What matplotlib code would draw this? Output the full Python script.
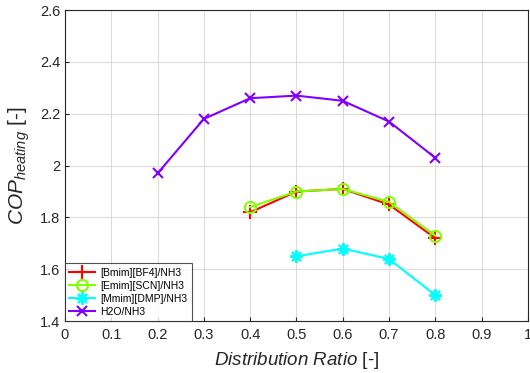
import matplotlib
matplotlib.use("Agg")
import matplotlib.pyplot as plt

plt.rcParams['font.family'] = ['Liberation Sans', 'DejaVu Sans']
plt.rcParams['mathtext.fontset'] = 'custom'
plt.rcParams['mathtext.rm'] = 'Liberation Sans'
plt.rcParams['mathtext.it'] = 'Liberation Sans:italic'

x_bmim = [0.4, 0.5, 0.6, 0.7, 0.8]
y_bmim = [1.82, 1.90, 1.91, 1.85, 1.72]
x_emim = [0.4, 0.5, 0.6, 0.7, 0.8]
y_emim = [1.84, 1.90, 1.91, 1.86, 1.73]
x_mmim = [0.5, 0.6, 0.7, 0.8]
y_mmim = [1.65, 1.68, 1.64, 1.50]
x_h2o = [0.2, 0.3, 0.4, 0.5, 0.6, 0.7, 0.8]
y_h2o = [1.97, 2.18, 2.26, 2.27, 2.25, 2.17, 2.03]
xticks = [0, 0.1, 0.2, 0.3, 0.4, 0.5, 0.6, 0.7, 0.8, 0.9, 1]
xticklabels = ['0', '0.1', '0.2', '0.3', '0.4', '0.5', '0.6', '0.7', '0.8', '0.9', '1']
yticks = [1.4, 1.6, 1.8, 2.0, 2.2, 2.4, 2.6]
yticklabels = ['1.4', '1.6', '1.8', '2', '2.2', '2.4', '2.6']

fig = plt.figure(figsize=(5.3, 3.73), dpi=100)
ax = fig.add_axes([0.1226, 0.139, 0.8734, 0.834])

ax.plot(x_bmim, y_bmim, color='#ff0000', marker='+', ms=10, mew=1.5, lw=1.5, label='[Bmim][BF4]/NH3')
ax.plot(x_emim, y_emim, color='#80ff00', marker='o', ms=8, mfc='none', mew=1.5, lw=1.5, label='[Emim][SCN]/NH3')
ax.plot(x_mmim, y_mmim, color='#00ffff', marker=(8, 2, 0), ms=9, mew=1.5, lw=1.5, label='[Mmim][DMP]/NH3')
ax.plot(x_h2o, y_h2o, color='#8000ff', marker='x', ms=7, mew=1.5, lw=1.5, label='H2O/NH3')

ax.set_xlim(0, 1)
ax.set_ylim(1.4, 2.6)
ax.set_xticks(xticks)
ax.set_xticklabels(xticklabels)
ax.set_yticks(yticks)
ax.set_yticklabels(yticklabels)
ax.tick_params(direction='in', labelsize=10.5, length=3, colors='#262626', labelcolor='#262626')
ax.tick_params(axis='x', pad=5)
ax.grid(True, color='#dcdcdc', lw=0.8)
ax.set_axisbelow(True)
for s in ax.spines.values():
    s.set_color('#262626')
    s.set_linewidth(0.8)

ax.set_xlabel(r'$\mathit{Distribution\ Ratio}$ [-]', fontsize=13.5, color='#262626', labelpad=6)
ax.set_ylabel(r'$\mathit{COP}_{\mathit{heating}}$ [-]', fontsize=15, color='#262626', labelpad=6)

leg = ax.legend(loc='lower left', fontsize=7.5, frameon=True, fancybox=False,
                edgecolor='#262626', borderaxespad=0, handlelength=2.5,
                borderpad=0.4, labelspacing=0.3, handletextpad=0.5)
leg.get_frame().set_linewidth(0.8)

fig.savefig('out.png', dpi=100)
